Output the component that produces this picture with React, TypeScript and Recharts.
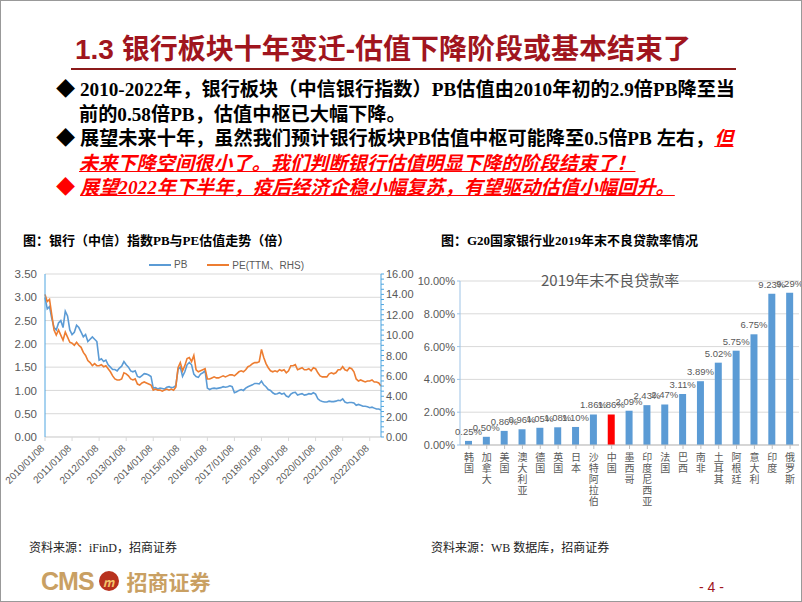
import React from 'react'
import { LineChart, Line, BarChart, Bar, Cell, XAxis, YAxis, CartesianGrid, LabelList } from 'recharts'

// monthly readings, Jan 2010 .. Jun 2022
const pbValues = [
  3.0, 2.75, 2.8, 2.55, 2.35, 2.3, 2.45, 2.5, 2.35, 2.7, 2.6, 2.3,
  2.2, 2.25, 2.4, 2.35, 2.25, 2.15, 2.2, 2.05, 2.1, 2.15, 2.1, 2.05,
  1.65, 1.68, 1.62, 1.65, 1.55, 1.5, 1.45, 1.45, 1.42, 1.48, 1.52, 1.62,
  1.55, 1.5, 1.42, 1.4, 1.42, 1.3, 1.28, 1.32, 1.36, 1.35, 1.33, 1.3,
  1.05, 1.06, 1.03, 1.05, 1.04, 1.03, 1.07, 1.08, 1.06, 1.07, 1.1, 1.45,
  1.5, 1.3, 1.4, 1.55, 1.6, 1.55, 1.35, 1.3, 1.28, 1.35, 1.38, 1.42,
  1.05, 1.02, 1.04, 1.05, 1.04, 1.05, 1.06, 1.08, 1.07, 1.08, 1.1, 1.08,
  0.95, 0.97, 1.0, 1.02, 1.0, 1.05, 1.08, 1.1, 1.12, 1.15, 1.15, 1.14,
  1.2, 1.12, 1.08, 1.02, 1.0, 0.95, 0.92, 0.93, 0.95, 0.92, 0.94, 0.88,
  0.86, 0.92, 0.95, 0.96, 0.9, 0.92, 0.93, 0.9, 0.91, 0.93, 0.92, 0.95,
  0.92, 0.82, 0.78, 0.76, 0.75, 0.75, 0.77, 0.76, 0.76, 0.77, 0.79, 0.78,
  0.82, 0.75, 0.73, 0.74, 0.74, 0.73, 0.68, 0.7, 0.68, 0.66, 0.66, 0.65,
  0.63, 0.64, 0.62, 0.6, 0.6, 0.58,
]

const peValues = [
  14.0, 13.3, 13.5, 12.0, 10.5, 10.0, 10.5, 10.0, 9.5, 10.3, 9.8, 9.3,
  9.2, 9.0, 9.3, 9.0, 8.8, 8.3, 8.0, 7.5, 7.3, 7.0, 7.2, 7.0,
  7.0, 7.1, 6.9, 7.0, 6.7, 6.4, 6.0, 5.7, 5.6, 5.6, 5.7, 6.3,
  6.2, 6.0, 5.7, 5.6, 5.7, 5.2, 5.1, 5.3, 5.4, 5.3, 5.2, 5.1,
  4.6, 4.7, 4.6, 4.6, 4.5, 4.6, 4.7, 4.6, 4.7, 4.6, 4.9, 6.8,
  7.3, 6.5, 7.0, 7.7, 7.8, 7.4, 8.0, 6.6, 6.4, 6.5, 6.6, 6.7,
  5.7, 5.7, 5.8, 5.9, 5.8, 5.8, 5.9, 6.0, 5.9, 6.0, 6.1, 6.1,
  6.0, 6.2, 6.4, 6.5, 6.4, 6.6, 6.9, 7.0, 7.2, 7.3, 7.3, 7.4,
  8.6, 7.8, 7.2, 6.8, 6.5, 6.4, 6.5, 6.4, 6.6, 6.5, 6.6, 6.3,
  6.5, 7.0, 7.0, 7.1, 6.6, 6.7, 6.8, 6.6, 6.6, 6.7, 6.5, 6.8,
  6.7, 6.3, 6.0, 5.9, 5.9, 5.9, 6.2, 6.3, 6.2, 6.3, 6.6, 6.6,
  6.9, 6.6, 6.5, 6.8, 6.7, 6.4, 5.7, 5.5, 5.6, 5.5, 5.4, 5.5,
  5.5, 5.6, 5.4, 5.4, 5.3, 5.0,
]

const dates = pbValues.map((_, i) => `${2010 + Math.floor(i / 12)}/${String((i % 12) + 1).padStart(2, '0')}/08`)
const yearTicks = dates.filter((d) => d.slice(5, 7) === '01')
const pbTicks = [0, 0.5, 1, 1.5, 2, 2.5, 3, 3.5]
const peTicks = Array.from({ length: 33 }, (_, i) => i * 0.5)

const valuationData = dates.map((date, i) => ({ date, pb: pbValues[i], pe: peValues[i] }))

const countries = ['韩国', '加拿大', '美国', '澳大利亚', '德国', '英国', '日本', '沙特阿拉伯', '中国', '墨西哥', '印度尼西亚', '法国', '巴西', '南非', '土耳其', '阿根廷', '意大利', '印度', '俄罗斯']
const nplRates = [0.25, 0.5, 0.86, 0.96, 1.05, 1.08, 1.1, 1.86, 1.86, 2.09, 2.43, 2.47, 3.11, 3.89, 5.02, 5.75, 6.75, 9.23, 9.29]
const nplTicks = [0, 1, 2, 3, 4, 5, 6, 7, 8, 9, 10]

const nplData = countries.map((name, i) => ({ name, rate: nplRates[i] }))

const CJK = '"Noto Sans CJK SC", sans-serif'
const SERIF_CJK = '"Liberation Serif", "Noto Sans CJK SC", serif'
const AXIS_FONT = '"Liberation Sans", "Noto Sans CJK SC", sans-serif'
const BLUE = '#5B9BD5'
const ORANGE = '#ED7D31'
const GRAY_TEXT = '#595959'
const RED = '#FF0000'

function DateTick({ x, y, payload }: any) {
  return (
    <text x={x} y={y + 6} transform={`rotate(-45, ${x}, ${y + 6})`} textAnchor="end" fontSize={10} fill={GRAY_TEXT} fontFamily={AXIS_FONT}>
      {payload.value}
    </text>
  )
}

function PeTick({ x, y, payload }: any) {
  if (payload.value % 2 !== 0) return null
  return (
    <text x={x} y={y + 4} textAnchor="start" fontSize={11} fill={GRAY_TEXT} fontFamily={AXIS_FONT}>
      {payload.value.toFixed(2)}
    </text>
  )
}

function CountryTick({ x, y, payload }: any) {
  const chars = String(payload.value).split('')
  return (
    <text x={x} y={y + 6} textAnchor="middle" fontSize={10} fill={GRAY_TEXT} fontFamily={CJK}>
      {chars.map((c, i) => (
        <tspan key={i} x={x} dy={i === 0 ? 4 : 11}>{c}</tspan>
      ))}
    </text>
  )
}

// keeps the last label inside the slide
function RateLabel({ x, y, width, value }: any) {
  const cx = Math.min(x + width / 2, 786)
  return (
    <text x={cx} y={y - 6} textAnchor="middle" fontSize={9.5} fill={GRAY_TEXT} fontFamily={AXIS_FONT}>
      {`${Number(value).toFixed(2)}%`}
    </text>
  )
}

function ValuationChart() {
  return (
    <div style={{ position: 'absolute', left: 0, top: 220, width: 420, height: 270 }}>
      <div style={{ position: 'absolute', left: 148, top: 36, display: 'flex', alignItems: 'center', fontSize: 10, color: GRAY_TEXT, fontFamily: AXIS_FONT }}>
        <span style={{ display: 'inline-block', width: 22, height: 2, background: BLUE, marginRight: 3 }} />
        <span style={{ marginRight: 20 }}>PB</span>
        <span style={{ display: 'inline-block', width: 22, height: 2, background: ORANGE, marginRight: 3 }} />
        <span>PE(TTM、RHS)</span>
      </div>
      <LineChart width={420} height={270} data={valuationData} margin={{ top: 53, right: 0, bottom: 0, left: 0 }}>
        <CartesianGrid yAxisId="left" vertical={false} stroke="#D9D9D9" />
        <XAxis dataKey="date" ticks={yearTicks} interval={0} tick={<DateTick />} height={54} stroke="#D9D9D9" tickSize={4} />
        <YAxis yAxisId="left" domain={[0, 3.5]} ticks={pbTicks} width={44} stroke="#4EA5E0" tickLine={false}
          tickFormatter={(v: number) => v.toFixed(2)} tick={{ fontSize: 11.5, fill: GRAY_TEXT, fontFamily: AXIS_FONT }} />
        <YAxis yAxisId="right" orientation="right" domain={[0, 16]} ticks={peTicks} interval={0} width={40} stroke="#4EA5E0"
          tickSize={3} tick={<PeTick />} />
        <Line yAxisId="left" dataKey="pb" stroke={BLUE} strokeWidth={1.6} dot={false} isAnimationActive={false} />
        <Line yAxisId="right" dataKey="pe" stroke={ORANGE} strokeWidth={1.6} dot={false} isAnimationActive={false} />
      </LineChart>
    </div>
  )
}

function NplChart() {
  return (
    <div style={{ position: 'absolute', left: 400, top: 220, width: 402, height: 300 }}>
      <div style={{ position: 'absolute', left: 140, top: 48, fontSize: 15, color: GRAY_TEXT, fontFamily: CJK, zIndex: 1 }}>
        2019年末不良贷款率
      </div>
      <BarChart width={402} height={300} data={nplData} margin={{ top: 60, right: 4, bottom: 0, left: 0 }}>
        <CartesianGrid vertical={false} stroke="#D9D9D9" />
        <XAxis dataKey="name" interval={0} tick={<CountryTick />} height={76} stroke="#BFBFBF" tickSize={4} />
        <YAxis domain={[0, 10]} ticks={nplTicks} width={59} stroke="#9DC3E6" tickSize={3}
          tickFormatter={(v: number) => `${v.toFixed(2)}%`} tick={{ fontSize: 11, fill: GRAY_TEXT, fontFamily: AXIS_FONT }} />
        <Bar dataKey="rate" barSize={7} isAnimationActive={false}>
          {nplData.map((d) => (
            <Cell key={d.name} fill={d.name === '中国' ? RED : BLUE} />
          ))}
          <LabelList dataKey="rate" content={<RateLabel />} />
        </Bar>
      </BarChart>
    </div>
  )
}

const redUnderline: React.CSSProperties = { color: RED, fontStyle: 'italic', textDecoration: 'underline' }
const bulletRow: React.CSSProperties = { paddingLeft: 23, textIndent: -23, whiteSpace: 'nowrap' }

export default function App() {
  return (
    <div style={{ position: 'absolute', left: 0, top: 0, width: 802, height: 602, boxSizing: 'border-box', border: '1px solid #999', background: '#fff', overflow: 'hidden' }}>
      <div style={{ position: 'absolute', left: 74, top: 26, fontSize: 28, fontWeight: 700, color: '#A0151E', fontFamily: '"Liberation Sans", "Noto Sans CJK SC", sans-serif', whiteSpace: 'nowrap' }}>
        1.3 银行板块十年变迁-估值下降阶段或基本结束了
      </div>
      <div style={{ position: 'absolute', left: 70, top: 67, width: 665, height: 2, background: '#8B1A1A' }} />

      <div style={{ position: 'absolute', left: 55, top: 77, width: 700, fontSize: 19.2, lineHeight: '24.5px', fontWeight: 700, color: '#000', fontFamily: SERIF_CJK }}>
        <div style={bulletRow}>
          ◆ 2010-2022年，银行板块（中信银行指数）PB估值由2010年初的2.9倍PB降至当<br />前的0.58倍PB，估值中枢已大幅下降。
        </div>
        <div style={bulletRow}>
          ◆ 展望未来十年，虽然我们预计银行板块PB估值中枢可能降至0.5倍PB 左右，<span style={redUnderline}>但</span><br />
          <span style={redUnderline}>未来下降空间很小了。我们判断银行估值明显下降的阶段结束了！</span>
        </div>
        <div style={{ ...bulletRow, color: RED }}>
          ◆ <span style={redUnderline}>展望2022年下半年，疫后经济企稳小幅复苏，有望驱动估值小幅回升。</span>
        </div>
      </div>

      <div style={{ position: 'absolute', left: 22, top: 229, fontSize: 13, fontWeight: 700, fontFamily: SERIF_CJK, color: '#000' }}>
        图：银行（中信）指数PB与PE估值走势（倍）
      </div>
      <div style={{ position: 'absolute', left: 440, top: 229, fontSize: 13, fontWeight: 700, fontFamily: SERIF_CJK, color: '#000' }}>
        图：G20国家银行业2019年末不良贷款率情况
      </div>

      <ValuationChart />
      <NplChart />

      <div style={{ position: 'absolute', left: 28, top: 537, fontSize: 12, fontFamily: SERIF_CJK, color: '#222' }}>
        资料来源：iFinD，招商证券
      </div>
      <div style={{ position: 'absolute', left: 430, top: 537, fontSize: 12, fontFamily: SERIF_CJK, color: '#222' }}>
        资料来源：WB 数据库，招商证券
      </div>

      <div style={{ position: 'absolute', left: 40, top: 565, display: 'flex', alignItems: 'center', color: '#C9A063', fontFamily: CJK, fontWeight: 700 }}>
        <span style={{ fontSize: 25, fontFamily: '"Liberation Sans", sans-serif', letterSpacing: -1 }}>CMS</span>
        <span style={{ display: 'inline-flex', alignItems: 'center', justifyContent: 'center', width: 20, height: 20, borderRadius: 10, margin: '0 8px 0 5px', background: '#B8321E', color: '#F2C36B', fontSize: 12, fontStyle: 'italic' }}>m</span>
        <span style={{ fontSize: 21 }}>招商证券</span>
      </div>
      <div style={{ position: 'absolute', left: 698, top: 578, fontSize: 14, color: '#A0151E', fontFamily: AXIS_FONT }}>
        - 4 -
      </div>
    </div>
  )
}
